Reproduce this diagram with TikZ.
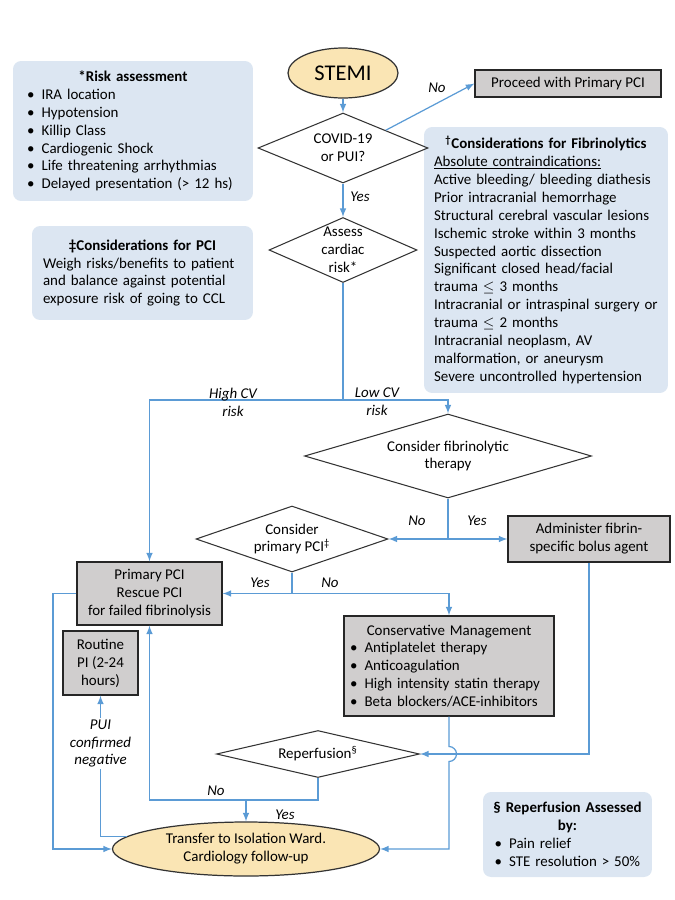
\documentclass[tikz,border=0pt]{standalone}
\usepackage{fontspec}
\setmainfont{Carlito}
\usepackage{amsmath,amssymb}
\usetikzlibrary{arrows,shapes.geometric}
\setlength{\parindent}{0pt}
\definecolor{flowblue}{HTML}{5B9BD5}
\definecolor{notefill}{HTML}{DCE6F2}
\definecolor{stepgray}{HTML}{D0CECE}
\definecolor{termfill}{HTML}{FAE5B4}
\newcommand{\bul}{\makebox[8.3pt][l]{\textbullet}}

\begin{document}
\begin{tikzpicture}[x=0.02cm,y=-0.02cm,
  every node/.style={font=\fontsize{8.5}{10.2}\selectfont},
  note/.style={fill=notefill,rounded corners=0.16cm,inner ysep=0pt},
  stepbox/.style={draw=black!85,fill=stepgray,align=center,inner sep=0pt,line width=0.7pt},
  query/.style={diamond,draw=black!80,align=center,inner sep=0pt,line width=0.6pt},
  term/.style={ellipse,draw=black!80,fill=termfill,align=center,inner sep=0pt,line width=0.7pt},
  lbl/.style={font=\fontsize{8.5}{10.2}\selectfont\itshape,align=center,inner sep=1pt},
  flow/.style={->,>=latex,draw=flowblue,line width=0.7pt}]
\useasboundingbox (0,0) rectangle (675,900);

\node[note,minimum width=4.8cm,minimum height=2.8cm,text width=4.24cm,inner xsep=0.28cm] (risk) at (133,131) {\centering\textbf{*Risk assessment}\par\raggedright
\bul IRA location\\\bul Hypotension\\\bul Killip Class\\\bul Cardiogenic Shock\\\bul Life threatening arrhythmias\\\bul Delayed presentation (> 12 hs)};
\node[note,text width=4.48cm,inner xsep=0.2cm,minimum height=5.32cm] (fibnote) at (546,260) {\centering\textbf{\textsuperscript{†}Considerations for Fibrinolytics}\par\raggedright
\underline{Absolute contraindications:}\\Active bleeding/ bleeding diathesis\\Prior intracranial hemorrhage\\Structural cerebral vascular lesions\\Ischemic stroke within 3 months\\Suspected aortic dissection\\Significant closed head/facial\\trauma $\leq$ 3 months\\Intracranial or intraspinal surgery or\\trauma $\leq$ 2 months\\Intracranial neoplasm, AV\\malformation, or aneurysm\\Severe uncontrolled hypertension};
\node[note,text width=3.98cm,inner xsep=0.22cm,minimum height=1.88cm] (pcinote) at (142.5,273) {\centering\textbf{‡Considerations for PCI}\par\raggedright
Weigh risks/benefits to patient\\and balance against potential\\exposure risk of going to CCL};
\node[note,text width=3.24cm,inner xsep=0.07cm,minimum height=1.7cm] (repnote) at (567.5,834.5) {\centering\textbf{§ Reperfusion Assessed\\by:}\par\raggedright
\hspace*{0.16cm}\bul Pain relief\\\hspace*{0.16cm}\bul STE resolution > 50\%};

\node[term,minimum width=2.2cm,minimum height=1cm,font=\fontsize{12.8}{15}\selectfont] (stemi) at (343,73) {STEMI};
\node[query,minimum width=3.4cm,minimum height=1.4cm,aspect=2.43] (covid) at (343,148) {COVID-19\\or PUI?};
\node[stepbox,minimum width=3.72cm,minimum height=0.54cm] (proceed) at (568,83.5) {Proceed with Primary PCI};
\node[query,minimum width=2.96cm,minimum height=1.3cm,aspect=2.28,inner sep=-1pt] (assess) at (343,250) {Assess\\cardiac\\risk*};
\node[query,minimum width=5.74cm,minimum height=1.68cm,aspect=3.42] (fibq) at (448,456) {Consider fibrinolytic\\therapy};
\node[stepbox,minimum width=3.24cm,minimum height=0.92cm] (admin) at (589,539) {Administer fibrin-\\specific bolus agent};
\node[query,minimum width=3.84cm,minimum height=1.32cm,aspect=2.9] (pciq) at (292,539) {Consider\\primary PCI\textsuperscript{‡}};
\node[stepbox,minimum width=2.9cm,minimum height=1.26cm] (primary) at (149.5,593.5) {Primary PCI\\Rescue PCI\\for failed fibrinolysis};
\node[stepbox,minimum width=1.5cm,minimum height=1.28cm] (routine) at (100.5,663) {Routine\\PI (2-24\\hours)};
\node[stepbox,align=left,text width=3.96cm,inner xsep=0.12cm,minimum height=2cm] (cons) at (449,666) {\centering Conservative Management\par\raggedright
\bul Antiplatelet therapy\\\bul Anticoagulation\\\bul High intensity statin therapy\\\bul Beta blockers/ACE-inhibitors};
\node[query,minimum width=4.06cm,minimum height=0.94cm,aspect=4.3] (reperf) at (318,754) {Reperfusion\textsuperscript{§}};
\node[term,minimum width=5.34cm,minimum height=1.08cm] (trans) at (246,849) {Transfer to Isolation Ward.\\Cardiology follow-up};

\coordinate (split1) at (343,400);
\coordinate (split2) at (448,539);
\coordinate (split3) at (292,593.5);
\coordinate (split4) at (246,800);
\coordinate (back) at (318,800);
\coordinate (lp) at (53,593.5);
\coordinate (hop) at (449,746.5);

\draw[flow] (stemi.south) -- (covid.north);
\draw[flow] (covid.north east) -- (proceed.west);
\draw[flow] (covid.south) -- (assess.north);
\draw[flow] (assess.south) -- (split1) -| (primary.north);
\draw[flow] (split1) -| (fibq.north);
\draw[flow] (fibq.south) -- (split2) -- (pciq.east);
\draw[flow] (split2) -- (admin.west);
\draw[flow] (pciq.south) -- (split3) -- (primary.east);
\draw[flow] (split3) -| (cons.north);
\draw[flow] (cons.south) -- (hop) arc[start angle=90,end angle=-90,radius=0.15cm] |- (trans.east);
\draw[flow] (admin.south) |- (reperf.east);
\draw[flow] (reperf.south) -- (back) -| (primary.south);
\draw[flow] (split4) -- (trans.north);
\draw[flow] (primary.west) -- (lp) |- (trans.west);
\draw[flow] (trans.174) -| node[lbl,fill=white,pos=0.83] (pui) {PUI\\confirmed\\negative} (routine.south);

\node[lbl] (noA) at (437,88) {No};
\node[lbl] (yesA) at (360,197) {Yes};
\node[lbl] (high) at (233,402) {High CV\\risk};
\node[lbl] (low) at (377,402) {Low CV\\risk};
\node[lbl] (noB) at (417,521) {No};
\node[lbl] (yesB) at (477,521) {Yes};
\node[lbl] (yesC) at (260,583) {Yes};
\node[lbl] (noC) at (330,583) {No};
\node[lbl] (noD) at (216,791) {No};
\node[lbl] (yesD) at (285,815) {Yes};
\end{tikzpicture}
\end{document}
